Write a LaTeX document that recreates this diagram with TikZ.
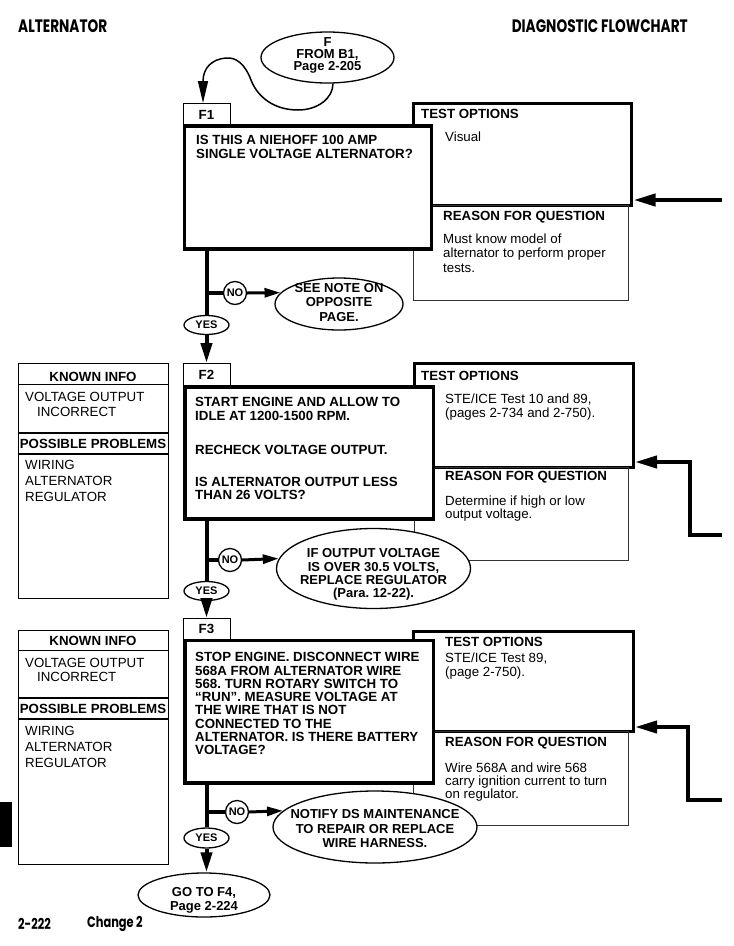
\documentclass[tikz,border=0pt]{standalone}
\usepackage{fontspec}
\setmainfont{Liberation Sans}
\newfontfamily\pagefont{Poppins}[FakeStretch=0.76]
\usetikzlibrary{shapes.geometric, arrows.meta, positioning}
\newcommand\qtxt{\bfseries\fontsize{13.3}{13.4}\selectfont}
\newcommand\bodytxt{\fontsize{13.3}{14.3}\selectfont}
\newcommand\ovaltxt{\bfseries\fontsize{13}{14.5}\selectfont}
\newcommand\choicetxt{\bfseries\fontsize{11}{12}\selectfont}
\newcommand\pagetxt{\pagefont\bfseries\fontsize{18}{19}\selectfont}
\tikzset{
  q_box/.style={draw, line width=3.5pt, fill=white, anchor=north west, inner sep=0pt, outer sep=0pt},
  tab_box/.style={draw, line width=1pt, fill=white, anchor=north west, inner sep=0pt, outer sep=0pt, font=\qtxt},
  opt_box/.style={draw, line width=3pt, anchor=north west, inner sep=0pt, outer sep=0pt},
  why_box/.style={draw=black!80, line width=1pt, anchor=north west, inner sep=0pt, outer sep=0pt},
  info_box/.style={draw, line width=1pt, anchor=north west, inner sep=0pt, outer sep=0pt},
  info_rule/.style={line width=1pt},
  band_rule/.style={line width=1.6pt},
  q_text/.style={anchor=north west, inner sep=0pt, align=left, font=\qtxt},
  head_text/.style={anchor=west, inner sep=0pt, font=\qtxt},
  body_text/.style={anchor=north west, inner sep=0pt, align=left, font=\bodytxt},
  page_text/.style={inner sep=0pt, font=\pagetxt},
  foot_text/.style={inner sep=0pt, anchor=west, font=\pagefont\bfseries\fontsize{15}{16}\selectfont},
  oval/.style={ellipse, draw, line width=1.3pt, fill=white, inner sep=0pt},
  oval_text/.style={font=\ovaltxt, align=center, inner sep=0pt},
  no_circle/.style={circle, draw, line width=1.3pt, fill=white, inner sep=0pt, minimum size=23pt, font=\choicetxt},
  yes_oval/.style={ellipse, draw, line width=1.3pt, fill=white, inner sep=0pt, minimum width=45pt, minimum height=19pt, font=\choicetxt},
  trunk/.style={line width=4pt},
  down_arrow/.style={line width=4pt, -{Triangle[length=20pt,width=11pt]}},
  no_arrow/.style={line width=3pt, -{Triangle[length=16pt,width=9pt]}},
  in_arrow/.style={line width=4pt, -{Triangle[length=22pt,width=12pt]}, shorten >=2pt},
  loop_arrow/.style={line width=1.5pt, -{Triangle[length=22pt,width=10pt]}}
}
\begin{document}
\frenchspacing
\begin{tikzpicture}[x=1pt, y=-1pt]
  \useasboundingbox (0,0) rectangle (734,946);

  % page head and foot
  \node[page_text, anchor=west] (pgtitle) at (18,26) {ALTERNATOR};
  \node[page_text, anchor=east] (pgchart) at (688,26) {DIAGNOSTIC FLOWCHART};
  \node[foot_text] (pgnum) at (18,924) {2-222};
  \node[foot_text] (pgchange) at (87,924) {Change 2};
  \fill (0,802) rectangle (12,847);

  % entry from B1
  \node[oval, minimum width=133pt, minimum height=51pt,
        label={[oval_text, font=\bfseries\fontsize{13}{12}\selectfont, yshift=2.5pt]center:F\\FROM B1,\\Page 2-205}] (fromb1) at (327.5,57.5) {};

  % step F1
  \node[tab_box, minimum width=47pt, minimum height=23pt] (f1tab) at (183,103) {F1};
  \node[opt_box, minimum width=218pt, minimum height=101.5pt] (f1opt) at (413.5,103.5) {};
  \node[why_box, minimum width=214.5pt, minimum height=95pt] (f1why) at (413.5,205) {};
  \node[q_box, minimum width=247pt, minimum height=123pt] (f1q) at (184.5,126) {};
  \node[head_text] (f1optt) at (421,113.5) {TEST OPTIONS};
  \node[body_text, anchor=west] (f1optb) at (445,137) {Visual};
  \node[q_text] (f1qt) at (196,135.3) {IS THIS A NIEHOFF 100 AMP\\SINGLE VOLTAGE ALTERNATOR?};
  \node[head_text] (f1whyt) at (443,217) {REASON FOR QUESTION};
  \node[body_text, font=\fontsize{13.3}{14.5}\selectfont] (f1whyb) at (443,233.3) {Must know model of\\alternator to perform proper\\tests.};
  \node[no_circle] (f1no) at (235,293) {NO};
  \node[oval, minimum width=128pt, minimum height=52pt,
        label={[oval_text, yshift=1.5pt]center:SEE NOTE ON\\OPPOSITE\\PAGE.}] (f1see) at (339,304) {};
  \node[yes_oval] (f1yes) at (206.5,325) {YES};

  % step F2
  \node[info_box, minimum width=150pt, minimum height=235pt] (f2known) at (18,363) {};
  \draw[info_rule] ([yshift=-21pt]f2known.north west) -- ([yshift=-21pt]f2known.north east);
  \draw[band_rule] ([yshift=-70pt]f2known.north west) -- ([yshift=-70pt]f2known.north east);
  \draw[band_rule] ([yshift=-91pt]f2known.north west) -- ([yshift=-91pt]f2known.north east);
  \node[head_text, anchor=center] (f2knownt) at (93,377) {KNOWN INFO};
  \node[body_text, font=\fontsize{13.3}{15}\selectfont] (f2knownb) at (25,392.3) {VOLTAGE OUTPUT\\\hspace*{12pt}INCORRECT};
  \node[head_text, anchor=center] (f2probt) at (93,444) {POSSIBLE PROBLEMS};
  \node[body_text, font=\fontsize{13.3}{16}\selectfont] (f2probb) at (25,460.3) {WIRING\\ALTERNATOR\\REGULATOR};
  \node[tab_box, minimum width=47pt, minimum height=24pt] (f2tab) at (183,363) {F2};
  \node[opt_box, minimum width=218.5pt, minimum height=103.5pt] (f2opt) at (414.5,363.5) {};
  \node[why_box, minimum width=214pt, minimum height=93pt] (f2why) at (414.5,467) {};
  \node[q_box, minimum width=248.5pt, minimum height=132pt] (f2q) at (185,387) {};
  \node[head_text] (f2optt) at (421,376) {TEST OPTIONS};
  \node[body_text, font=\fontsize{13.3}{14}\selectfont] (f2optb) at (445,393.3) {STE/ICE Test 10 and 89,\\(pages 2-734 and 2-750).};
  \node[q_text] (f2qt) at (195,397.3) {START ENGINE AND ALLOW TO\\IDLE AT 1200-1500 RPM.\\[21pt]RECHECK VOLTAGE OUTPUT.\\[18.5pt]IS ALTERNATOR OUTPUT LESS\\THAN 26 VOLTS?};
  \node[head_text] (f2whyt) at (445,477) {REASON FOR QUESTION};
  \node[body_text, font=\fontsize{13.3}{13.4}\selectfont] (f2whyb) at (445,495.3) {Determine if high or low\\output voltage.};
  \node[no_circle] (f2no) at (230,560) {NO};
  \node[oval, minimum width=194pt, minimum height=80pt,
        label={[oval_text, font=\bfseries\fontsize{13}{13.3}\selectfont, yshift=-6pt]center:IF OUTPUT VOLTAGE\\IS OVER 30.5 VOLTS,\\REPLACE REGULATOR\\(Para. 12-22).}] (f2over) at (373.5,568.5) {};
  \node[yes_oval] (f2yes) at (206.5,591) {YES};

  % step F3
  \node[info_box, minimum width=150pt, minimum height=234pt] (f3known) at (18,630) {};
  \draw[info_rule] ([yshift=-20pt]f3known.north west) -- ([yshift=-20pt]f3known.north east);
  \draw[band_rule] ([yshift=-68pt]f3known.north west) -- ([yshift=-68pt]f3known.north east);
  \draw[band_rule] ([yshift=-89pt]f3known.north west) -- ([yshift=-89pt]f3known.north east);
  \node[head_text, anchor=center] (f3knownt) at (93,641) {KNOWN INFO};
  \node[body_text, font=\fontsize{13.3}{14}\selectfont] (f3knownb) at (25,658.3) {VOLTAGE OUTPUT\\\hspace*{12pt}INCORRECT};
  \node[head_text, anchor=center] (f3probt) at (93,709) {POSSIBLE PROBLEMS};
  \node[body_text, font=\fontsize{13.3}{16}\selectfont] (f3probb) at (25,726.3) {WIRING\\ALTERNATOR\\REGULATOR};
  \node[tab_box, minimum width=47pt, minimum height=22.5pt] (f3tab) at (183,618) {F3};
  \node[opt_box, minimum width=219.5pt, minimum height=100.5pt] (f3opt) at (413.5,631) {};
  \node[why_box, minimum width=214.5pt, minimum height=93.5pt] (f3why) at (413.5,731.5) {};
  \node[q_box, minimum width=248.5pt, minimum height=142.5pt] (f3q) at (185,640.5) {};
  \node[head_text] (f3optt) at (445,642) {TEST OPTIONS};
  \node[body_text, font=\fontsize{13.3}{14}\selectfont] (f3optb) at (445,652.3) {STE/ICE Test 89,\\(page 2-750).};
  \node[q_text, font=\bfseries\fontsize{13.3}{13.3}\selectfont] (f3qt) at (195,652.3) {STOP ENGINE. DISCONNECT WIRE\\568A FROM ALTERNATOR WIRE\\568. TURN ROTARY SWITCH TO\\“RUN”. MEASURE VOLTAGE AT\\THE WIRE THAT IS NOT\\CONNECTED TO THE\\ALTERNATOR. IS THERE BATTERY\\VOLTAGE?};
  \node[head_text] (f3whyt) at (445,743) {REASON FOR QUESTION};
  \node[body_text, font=\fontsize{13.3}{13.3}\selectfont] (f3whyb) at (445,762.3) {Wire 568A and wire 568\\carry ignition current to turn\\on regulator.};
  \node[no_circle] (f3no) at (237,812) {NO};
  \node[oval, minimum width=204pt, minimum height=72pt,
        label={[oval_text, yshift=-2pt]center:NOTIFY DS MAINTENANCE\\TO REPAIR OR REPLACE\\WIRE HARNESS.}] (f3notify) at (375,827) {};
  \node[yes_oval, minimum height=20pt] (f3yes) at (206.5,838) {YES};
  \node[oval, minimum width=132pt, minimum height=44pt,
        label={[oval_text, font=\bfseries\fontsize{13}{14}\selectfont, yshift=-5pt]center:GO TO F4,\\Page 2-224}] (f4go) at (204,895) {};

  % loop from the entry oval into F1
  \draw[loop_arrow] ([xshift=5.5pt]fromb1.south) .. controls (333,98) and (318,110) .. (298,110)
    .. controls (275,110) and (258,98) .. (251,80)
    .. controls (245,64) and (236,57) .. (226,58)
    .. controls (212,59) and (203,68) .. ([xshift=-3.5pt]f1tab.north);

  % yes / no branches
  \draw[trunk] (f1q.south -| f1yes) -- (f1yes.north);
  \draw[down_arrow] (f1yes.south) -- (f2tab.north);
  \draw[trunk] (f1no -| f1yes) -- (f1no.west);
  \draw[no_arrow] (f1no.east) -- (f1see.169);

  \draw[trunk] (f2q.south -| f2yes) -- (f2yes.north);
  \draw[down_arrow] (f2yes.south) -- (f3tab.north);
  \draw[trunk] (f2no -| f2yes) -- (f2no.west);
  \draw[no_arrow] (f2no.east) -- (f2over.174);

  \draw[trunk] (f3q.south -| f3yes) -- (f3yes.north);
  \draw[down_arrow] (f3yes.south) -- (f3yes.south |- f4go.north);
  \draw[trunk] (f3no -| f3yes) -- (f3no.west);
  \draw[no_arrow] (f3no.east) -- (f3notify.170);

  % returns from the facing page
  \coordinate (f1in) at (722,200);
  \draw[in_arrow] (f1in) -- (f1in -| f1opt.east);
  \coordinate (f2in) at (722,535);
  \coordinate (f2bend) at (690,462);
  \draw[in_arrow] (f2in) -| (f2bend) -- (f2bend -| f2opt.east);
  \coordinate (f3in) at (722,800);
  \coordinate (f3bend) at (688,727);
  \draw[in_arrow] (f3in) -| (f3bend) -- (f3bend -| f3opt.east);
\end{tikzpicture}
\end{document}
